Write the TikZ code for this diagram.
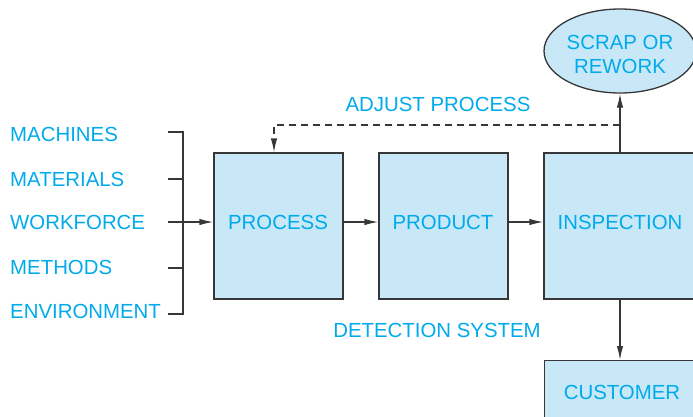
\documentclass[tikz,border=0pt]{standalone}
\usepackage{fontspec}
\setmainfont{Liberation Sans}
\usetikzlibrary{arrows.meta,shapes.geometric}
\definecolor{txtcyan}{RGB}{0,170,235}
\definecolor{boxfill}{RGB}{200,232,248}
\definecolor{linegray}{RGB}{55,55,55}
\tikzset{
  lbl/.style={text=txtcyan,font=\fontsize{20.4}{24}\selectfont,inner sep=0pt},
  blk/.style={draw=linegray,line width=1.3pt,fill=boxfill,inner sep=0pt,minimum height=146pt},
  ln/.style={draw=linegray,line width=1.3pt},
  tipped/.style={-{Latex[length=14pt,width=6.5pt]}},
  arr/.style={ln,tipped},
}
\begin{document}
\begin{tikzpicture}[x=1pt,y=-1pt]
\useasboundingbox (0,0) rectangle (693,416);
\clip (0,0) rectangle (693,416);
% boxes
\node[blk,minimum width=129pt] (process) at (278.5,226) {};
\node[blk,minimum width=129pt] (product) at (443.5,226) {};
\node[blk,minimum width=152pt] (inspection) at (620,226) {};
\node[blk,minimum width=152pt,minimum height=80pt,anchor=north] (customer) at (620.5,360) {};
\node[blk,ellipse,minimum width=152pt,minimum height=84pt] (scrap) at (620,51) {};
% texts
\node[lbl] (processtxt) at (278,222) {PROCESS};
\node[lbl] (producttxt) at (443,222) {PRODUCT};
\node[lbl] (inspectiontxt) at (620,222) {INSPECTION};
\node[lbl] (customertxt) at (622,392) {CUSTOMER};
\node[lbl,align=center] (scraptxt) at (620,54) {SCRAP OR\\REWORK};
\node[lbl,anchor=west] (machines) at (10,134) {MACHINES};
\node[lbl,anchor=west] (materials) at (10,179) {MATERIALS};
\node[lbl,anchor=west] (workforce) at (10,222) {WORKFORCE};
\node[lbl,anchor=west] (methods) at (10,267) {METHODS};
\node[lbl,anchor=west] (environment) at (10,311) {ENVIRONMENT};
\node[lbl] (adjust) at (438,104) {ADJUST PROCESS};
\node[lbl] (detection) at (437,330) {DETECTION SYSTEM};
% bracket
\coordinate (b1) at (168,132);
\coordinate (b2) at (168,179);
\coordinate (b3) at (168,222);
\coordinate (b4) at (168,268);
\coordinate (b5) at (168,314);
\draw[ln] (b1) -- (183,132) -- (183,314) -- (b5);
\draw[ln] (b2) -- (183,179);
\draw[ln] (b4) -- (183,268);
\draw[arr] (b3) -- (process.west |- b3);
% flow
\draw[arr] (process.east |- b3) -- (product.west |- b3);
\draw[arr] (product.east |- b3) -- (inspection.west |- b3);
\draw[arr] (inspection.north) -- (scrap.south);
\draw[arr] (inspection.south) -- (customer.north -| inspection.south);
\coordinate (dtop) at (620,125);
\coordinate (dcorner) at (274,125);
\draw[ln,dash pattern=on 7pt off 5pt,tipped] (dtop) -- (dcorner) -- (process.north -| dcorner);
\end{tikzpicture}
\end{document}
